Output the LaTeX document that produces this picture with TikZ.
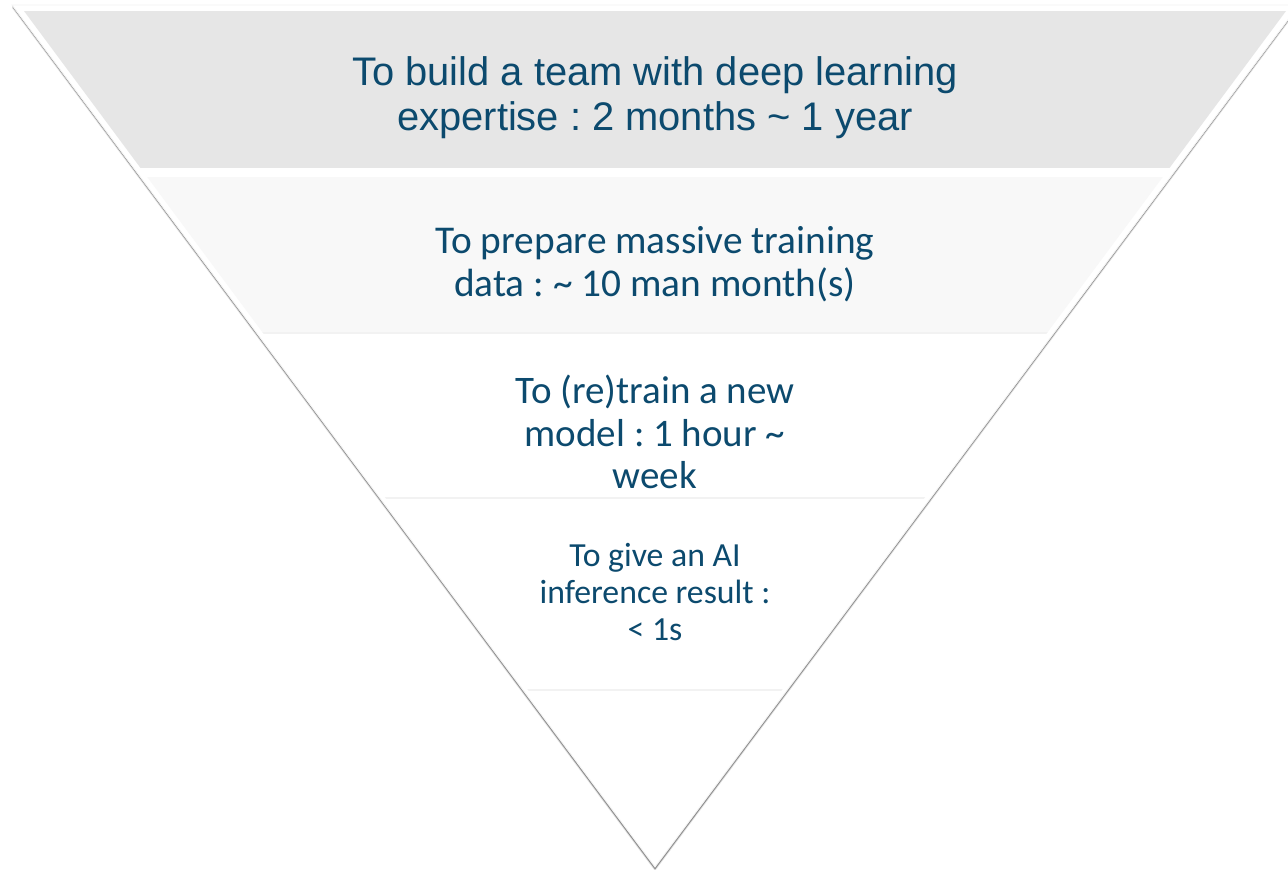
\documentclass[tikz,border=0pt]{standalone}
\usepackage{fontspec}
\setmainfont{Carlito}
\newfontfamily\arialfont{Liberation Sans}
\definecolor{inkBlue}{HTML}{0C4A6E}
\definecolor{bandA}{HTML}{E6E6E6}
\definecolor{bandB}{HTML}{F8F8F8}
\frenchspacing

\begin{document}
\begin{tikzpicture}[
    x=0.02cm, y=-0.02cm,
    lbl/.style={text=inkBlue, align=center, inner sep=0pt},
    sep/.style={black!5, line width=0.6pt},
]
\useasboundingbox (0,0) rectangle (1288,869);

% === Outer funnel with its shadow ===
\fill[black!12] (12,8) -- (1299,8) -- (655,871) -- cycle;
\fill[black!45] (12,6.5) -- (1299,6.5) -- (655,869.5) -- cycle;
\draw[black!5, line width=0.5pt, fill=white]
    (12,5) -- (1299,5) -- (655,867) -- cycle;

% === Bands, clipped to the inner funnel ===
\begin{scope}
\clip (24,11) -- (1286,11) -- (655,861) -- cycle;
\fill[bandA] (0,11) rectangle (1300,168);   % band 1
\fill[bandB] (0,177) rectangle (1300,333);  % band 2
\draw[sep] (0,333) -- (1300,333);
\draw[sep] (0,498) -- (1300,498);
\draw[sep] (0,690) -- (1300,690);
\end{scope}

% === Labels ===
\node[lbl, font={\arialfont\fontsize{22.7}{25.6}\selectfont}] (team) at (655,98)
    {To build a team with deep learning\\expertise : 2 months \char`~\ 1 year};
\node[lbl, font={\fontsize{22.4}{24.5}\selectfont}] (data) at (655,264)
    {To prepare massive training\\data : \char`~\ 10 man month(s)};
\node[lbl, font={\fontsize{22.2}{24.2}\selectfont}] (train) at (655,432)
    {To (re)train a new\\model : 1 hour \char`~\\week};
\node[lbl, font={\fontsize{19.2}{21.3}\selectfont}] (infer) at (655,592)
    {To give an AI\\inference result :\\\textless\ 1s};

\end{tikzpicture}
\end{document}
